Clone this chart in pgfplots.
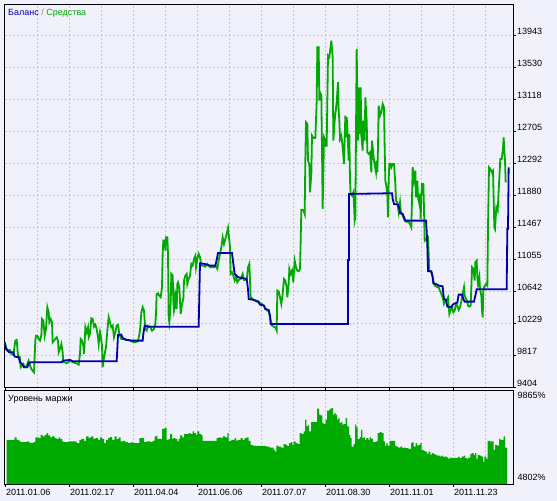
\documentclass[border=0pt]{standalone}
\usepackage{fontspec}
\setmainfont{Liberation Sans}
\usepackage{pgfplots}
\pgfplotsset{compat=1.18}
\definecolor{bg}{RGB}{241,241,251}
\definecolor{eqgreen}{RGB}{0,170,0}
\definecolor{balblue}{RGB}{0,0,170}
\definecolor{gridc}{RGB}{196,196,206}
\definecolor{slashc}{RGB}{190,110,40}
\begin{document}
\begin{tikzpicture}[font=\fontsize{9bp}{10bp}\selectfont]
\fill[bg] (0,0) rectangle (557bp,501bp);
\begin{axis}[
  at={(4.5bp,113.3bp)}, anchor=south west, scale only axis,
  width=508.5bp, height=383.7bp,
  xmin=13.5, xmax=1539, ymin=9404, ymax=14351,
  scaled x ticks=false, scaled y ticks=false,
  axis line style={black, line width=0.8bp},
  xtick={112,208,...,1456}, xticklabels={},
  ytick={9404,9817,10229,10642,11055,11467,11880,12292,12705,13118,13530,13943},
  yticklabels={9404,9817,10229,10642,11055,11467,11880,12292,12705,13118,13530,13943},
  ytick pos=right, yticklabel pos=right,
  tick align=outside, major tick length=3bp,
  xtick style={draw=none},
  ytick style={black, line width=0.6bp},
  yticklabel style={anchor=west, inner sep=0pt, xshift=1bp, yshift=4bp},
  grid=major,
  major grid style={gridc, dash pattern=on 2bp off 2bp, line width=0.7bp},
  clip=true,
]
\addplot[eqgreen, line width=1.8bp] coordinates {
(14,9989)(20,9903)(26,9882)(30,9890)(34,9839)(40,9826)(46,10011)(50,10020)(54,9818)(60,9796)
(62,9667)(66,9688)(70,9710)(74,9667)(78,9667)(82,9710)(86,9753)(90,9688)(94,9645)(98,9624)
(102,9603)(106,10011)(108,10075)(112,10075)(116,10032)(120,10011)(124,10075)(126,10290)(130,10269)(134,10075)
(138,10161)(142,10441)(146,10376)(148,10247)(152,10290)(156,10247)(158,9989)(162,10011)(166,10032)(170,10054)
(174,10011)(176,9860)(180,9903)(184,9968)(188,9860)(190,9731)(196,9731)(200,9718)(204,9731)(208,9744)
(214,9744)(220,9731)(226,9723)(230,9718)(236,9701)(240,9839)(242,10032)(246,10011)(250,9946)(252,9839)
(254,9989)(256,10183)(260,10118)(264,10183)(266,10054)(270,10097)(274,10299)(278,10290)(282,10191)(286,10217)
(290,10161)(294,10054)(296,9968)(300,10118)(302,10075)(306,9946)(308,9667)(312,9796)(316,9882)(318,9925)
(322,10140)(326,10312)(330,10247)(334,10183)(338,10204)(342,10054)(346,10118)(350,10204)(354,10213)(358,10097)
(360,10075)(364,10032)(370,10032)(378,10020)(386,10020)(394,10002)(404,9989)(414,10002)(420,10140)(424,10376)
(428,10441)(432,10398)(434,10269)(436,10161)(440,10140)(444,10204)(450,10191)(456,10140)(462,10161)(466,10226)
(468,10355)(470,10613)(474,10621)(478,10591)(482,10570)(486,10699)(488,11129)(490,11300)(494,11300)(496,11171)
(498,11343)(502,11343)(504,11129)(506,10312)(508,10247)(510,10355)(512,10484)(514,10871)(518,10849)(520,10527)
(522,10398)(524,10441)(526,10613)(528,10570)(530,10419)(532,10741)(534,10763)(538,10699)(542,10355)(546,10484)
(550,10548)(552,10785)(556,10849)(560,10871)(562,10741)(566,10806)(570,10849)(574,11000)(578,10978)(582,11064)
(586,11107)(588,10957)(592,11064)(596,11129)(600,11086)(604,10978)(608,10978)(616,10965)(622,11000)(630,10957)
(642,10957)(646,10978)(652,10935)(656,11043)(660,11129)(664,11214)(668,11343)(672,11257)(676,11322)(680,11386)
(684,11464)(688,11300)(690,11214)(692,10871)(696,10892)(700,10849)(704,10785)(708,10828)(712,10763)(716,10793)
(722,10806)(728,10871)(732,10793)(740,10793)(744,10957)(748,11000)(750,10785)(752,10570)(758,10548)(762,10535)
(768,10527)(776,10518)(780,10492)(786,10484)(792,10462)(796,10419)(800,10406)(806,10389)
(816,10204)(820,10191)(826,10183)(830,10140)(832,10656)(836,10647)(840,10570)(844,10484)(848,10613)(852,10806)
(856,10785)(860,10699)(862,10570)(866,10741)(868,10935)(872,10871)(876,10914)(880,10763)(884,11043)(888,10957)
(892,10914)(896,10905)(900,10935)(902,11300)(904,11696)(910,11696)(914,11644)(916,12332)(918,12826)(922,12805)
(924,12332)(928,12289)(930,11924)(934,12160)(936,12654)(940,12624)(946,12624)(950,13084)(952,13793)(956,13793)
(958,13105)(960,13213)(964,13170)(966,12482)(968,11709)(972,12633)(974,12611)(976,12525)(980,12525)(984,13686)
(988,13664)(994,13879)(998,13664)(1000,12590)(1004,12848)(1010,13084)(1014,13342)(1016,12977)(1018,12848)(1020,12611)
(1024,12654)(1028,12504)(1032,12289)(1036,12912)(1038,12633)(1040,12891)(1042,12762)(1046,12332)(1048,12676)(1050,12074)
(1052,11902)(1056,11881)(1060,11924)(1062,11773)(1064,11558)(1066,11601)(1070,13772)(1074,12590)(1076,13062)(1078,13277)
(1080,12676)(1082,13277)(1084,12654)(1088,12461)(1090,12848)(1094,12590)(1096,13148)(1100,12848)(1102,12439)(1106,12418)
(1110,12439)(1114,12181)(1116,12590)(1120,12418)(1122,12332)(1128,12181)(1130,12332)(1132,12181)(1134,12504)(1136,13041)
(1140,12912)(1144,12955)(1148,13062)(1152,13020)(1154,12504)(1156,12074)(1158,12031)(1162,11902)(1164,11601)(1166,12074)
(1168,12289)(1172,12289)(1174,12246)(1178,12289)(1182,12289)(1186,12031)(1188,11816)(1192,11795)(1196,11666)(1198,11730)
(1200,11795)(1202,11687)(1206,11644)(1210,11601)(1214,11558)(1218,11545)(1222,11545)(1226,11537)(1230,11515)(1234,11472)
(1236,11838)(1238,12246)(1242,12074)(1246,12203)(1248,11859)(1252,12074)(1254,11859)(1258,11773)(1260,11902)(1262,11580)
(1264,11881)(1266,12031)(1270,12031)(1272,11709)(1274,11300)(1278,11322)(1284,11343)(1288,10914)(1292,10905)(1296,10871)
(1300,10785)(1304,10720)(1308,10711)(1312,10699)(1316,10699)(1320,10656)(1324,10613)(1328,10570)(1332,10484)(1336,10527)
(1340,10535)(1344,10570)(1348,10355)(1352,10406)(1356,10441)(1360,10376)(1364,10398)(1368,10484)(1372,10462)(1376,10406)
(1380,10441)(1384,10518)(1388,10613)(1392,10699)(1394,10591)(1398,10548)(1402,10518)(1404,10462)(1408,10449)(1412,10462)
(1414,10699)(1416,10957)(1420,10935)(1424,10785)(1426,11021)(1430,11043)(1432,10828)(1434,10741)(1438,10836)(1440,10677)
(1444,10591)(1446,10398)(1448,10312)(1450,10656)(1452,10699)(1458,10741)(1462,10720)
(1464,11472)(1467,12245)(1471,12224)(1475,12181)(1479,12202)(1483,11472)(1485,11450)(1489,11730)(1493,11687)(1497,12030)
(1501,12353)(1505,12353)(1509,12482)(1511,12632)(1513,12460)(1515,12331)(1517,12052)
};
\addplot[balblue, line width=1.8bp] coordinates {
(14,9989)(18,9903)(28,9860)(40,9860)(44,9805)(56,9796)(60,9731)(68,9701)(72,9667)(82,9667)
(86,9718)(92,9731)(184,9731)(190,9753)(210,9762)(218,9744)(350,9744)(352,9903)(354,10084)(364,10088)
(368,10045)(380,10020)(398,10011)(428,10011)(430,10097)(434,10204)(444,10191)(596,10191)(598,10591)(600,11008)
(614,11000)(630,10978)(646,10978)(650,11051)(654,11141)(696,11141)(700,11000)(704,10871)(714,10828)(740,10806)
(744,10677)(746,10548)(762,10535)(776,10505)(780,10475)(792,10462)(796,10419)(806,10406)(810,10333)(812,10226)
(1044,10226)(1044,11051)(1047,11051)(1047,11902)(1176,11911)(1178,11838)(1182,11773)(1194,11765)(1198,11709)(1200,11653)
(1208,11644)(1212,11601)(1216,11558)(1278,11558)(1280,11429)(1282,11236)(1284,10905)(1294,10905)(1298,10828)(1300,10750)
(1312,10733)(1316,10720)(1328,10711)(1330,10613)(1332,10548)(1338,10535)(1342,10449)(1354,10441)(1358,10475)(1366,10492)
(1372,10501)(1376,10604)(1386,10604)(1390,10548)(1394,10514)(1422,10514)(1426,10591)(1430,10673)(1520,10673)(1522,11451)
(1524,11451)(1526,12246)
};
\end{axis}
\begin{axis}[
  at={(4.5bp,17bp)}, anchor=south west, scale only axis,
  width=508.5bp, height=93.7bp,
  xmin=13.5, xmax=1539, ymin=4802, ymax=9865,
  scaled x ticks=false, scaled y ticks=false,
  clip=false,
  axis line style={black, line width=0.8bp},
  ytick=\empty,
  xtick={112,208,...,1456}, xticklabels={},
  major tick length=0pt,
  xmajorgrids,
  major grid style={gridc, dash pattern=on 2bp off 2bp, line width=0.7bp},
  extra x ticks={16,208,400,592,784,976,1168,1360},
  extra x tick labels={2011.01.06,2011.02.17,2011.04.04,2011.06.06,2011.07.07,2011.08.30,2011.11.01,2011.11.23},
  extra x tick style={grid=none, tick align=outside, major tick length=2.5bp,
    tick style={black, line width=0.6bp},
    xticklabel style={anchor=north west, inner sep=0pt, xshift=0.5bp, yshift=-2.5bp}},
]
\addplot[const plot, fill=eqgreen, draw=none] coordinates {
(20,7190)(44,7317)(50,7190)(58,7099)(62,7063)(80,7099)(86,7045)(92,7009)(100,7063)(106,7317)
(116,7280)(122,7461)(128,7371)(134,7461)(140,7552)(144,7425)(150,7317)(156,7371)(164,7280)(170,7226)
(176,7317)(180,7244)(186,7099)(190,7063)(206,7099)(230,7009)(238,7190)(244,7244)(252,7136)(258,7371)
(266,7280)(270,7317)(274,7371)(280,7244)(286,7280)(294,7190)(300,7317)(306,7244)(312,7009)(318,7190)
(324,7280)(330,7335)(336,7190)(344,7371)(350,7226)(356,7317)(362,7099)(370,7136)(376,7063)(384,7009)
(392,7045)(400,7009)(418,7280)(432,7063)(440,7099)(452,7063)(458,7136)(464,7371)(468,7407)(472,7244)
(486,7787)(494,7823)(500,7190)(506,7244)(510,7497)(516,7244)(520,7280)(526,7244)(532,7099)(536,7244)
(540,7425)(546,7317)(552,7497)(566,7552)(572,7497)(578,7642)(582,7552)(588,7461)(592,7642)(598,7497)
(604,7425)(608,7136)(650,7280)(656,7317)(662,7280)(668,7371)(676,7317)(682,7552)(686,7136)(694,7190)
(704,7280)(708,7136)(712,7190)(722,7280)(728,7190)(734,7280)(740,7317)(746,7136)(752,6919)(758,6882)
(765,6864)(799,6828)(809,6774)(821,6647)(825,6557)(829,6882)(835,6828)(843,6774)(851,6955)(857,6919)
(861,6864)(867,7009)(873,7063)(877,6919)(881,7099)(887,7009)(893,6955)(899,7552)(905,7497)(911,7642)
(915,8275)(919,7913)(923,7968)(927,7642)(933,8149)(951,8872)(957,8547)(961,8510)(967,8094)(971,8040)
(977,8275)(981,8764)(987,8818)(991,8872)(995,8908)(999,8547)(1003,8637)(1007,8547)(1011,8275)(1015,8366)
(1019,8094)(1023,8149)(1027,8004)(1031,8040)(1037,8366)(1041,7913)(1047,7461)(1051,7280)(1055,6828)(1061,6955)
(1065,8004)(1069,7859)(1073,7226)(1079,7335)(1083,7733)(1087,7280)(1091,7317)(1095,7190)(1099,7280)(1105,7190)
(1109,7317)(1113,7244)(1119,7063)(1127,7099)(1133,7552)(1139,7606)(1145,7552)(1151,7099)(1155,6882)(1159,7009)
(1163,6882)(1169,7136)(1185,6882)(1189,6828)(1195,6774)(1201,6828)(1207,6738)(1211,6774)(1217,6738)(1225,6701)
(1233,7009)(1237,7063)(1241,6828)(1247,7009)(1251,6882)(1255,6919)(1261,7009)(1265,6647)(1271,6593)(1275,6557)
(1281,6412)(1285,6557)(1291,6376)(1295,6466)(1301,6412)(1305,6376)(1311,6340)(1321,6285)(1325,6340)(1329,6267)
(1335,6285)(1341,6231)(1345,6159)(1349,6231)(1355,6195)(1361,6231)(1365,6195)(1371,6231)(1375,6285)(1379,6195)
(1385,6285)(1391,6340)(1395,6195)(1401,6159)(1405,6231)(1411,6412)(1415,6466)(1421,6376)(1425,6466)(1429,6159)
(1433,6376)(1439,6340)(1445,6285)(1449,6014)(1453,6285)(1459,6159)(1463,7136)(1469,7099)(1481,6647)(1485,6919)
(1491,6882)(1497,7244)(1501,7190)(1511,7371)(1515,6774)(1521,6774)
} \closedcycle;
\node[anchor=north west, inner sep=0pt] at (rel axis cs:1,1) [xshift=4.5bp, yshift=-1.5bp] {9865\%};
\node[anchor=south west, inner sep=0pt] at (rel axis cs:1,0) [xshift=4.5bp, yshift=3bp] {4802\%};
\end{axis}
\node[anchor=west, inner sep=0pt] at (8bp,487.7bp) {\textcolor{balblue}{Баланс} \textcolor{slashc}{/} \textcolor{eqgreen}{Средства}};
\node[anchor=west, inner sep=0pt] at (8bp,102bp) {Уровень маржи};
\pgfresetboundingbox
\path[use as bounding box] (0,0) rectangle (557bp,501bp);
\end{tikzpicture}
\end{document}
